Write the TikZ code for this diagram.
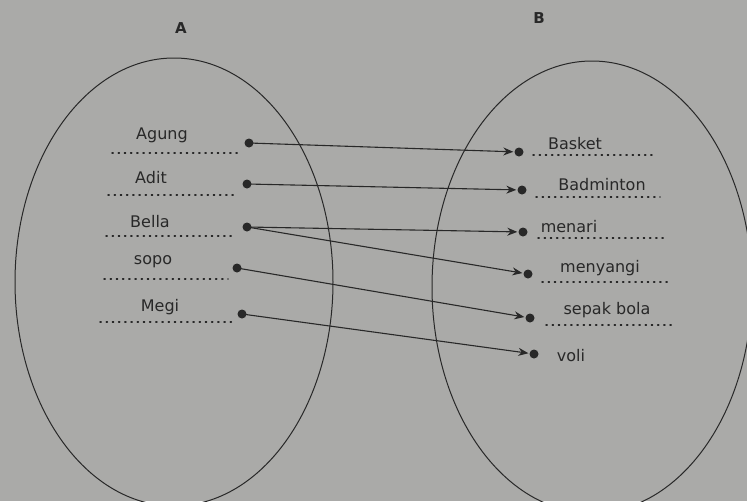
\documentclass[tikz,border=0pt]{standalone}
\usepackage{fontspec}
\setmainfont{DejaVu Sans}
\usetikzlibrary{arrows.meta}
\definecolor{paper}{RGB}{170,170,168}
\definecolor{ink}{RGB}{40,40,40}
\begin{document}
\begin{tikzpicture}[x=1pt,y=-1pt,
  item/.style={font=\fontsize{16}{18}\selectfont, text=ink, inner sep=0pt},
  setlabel/.style={font=\fontsize{15}{17}\selectfont\bfseries, text=ink},
  pt/.style={circle, fill=ink, inner sep=0pt, minimum size=9pt},
  dotline/.style={ink, line width=1.4pt, dash pattern=on 1.2pt off 5pt, line cap=round},
  map/.style={ink, line width=1.1pt, -{Stealth[length=10pt,width=8pt]}, shorten >=1pt}]
\useasboundingbox (0,0) rectangle (747,501);
\fill[paper] (0,0) rectangle (747,501);
\begin{scope}
\clip (0,0) rectangle (747,501);
\draw[ink, line width=1pt] (174,282) ellipse [x radius=159, y radius=224];
\draw[ink, line width=1pt] (592,287) ellipse [x radius=160, y radius=226];
\end{scope}
\node[setlabel] (A) at (181,28) {A};
\node[setlabel] (B) at (539,18) {B};
% left items
\node[item] (agung) at (162,135) {Agung};
\node[item] (adit) at (151,178) {Adit};
\node[item] (bella) at (150,222) {Bella};
\node[item] (sopo) at (153,262) {sopo};
\node[item] (megi) at (160,307) {Megi};
\draw[dotline] (112,153) -- (238,153);
\draw[dotline] (108,195) -- (238,195);
\draw[dotline] (106,236) -- (236,236);
\draw[dotline] (104,279) -- (228,279);
\draw[dotline] (100,322) -- (232,322);
\node[pt] (a1) at (249,143) {};
\node[pt] (a2) at (247,184) {};
\node[pt] (a3) at (247,227) {};
\node[pt] (a4) at (237,268) {};
\node[pt] (a5) at (242,314) {};
% right items
\node[item] (basket) at (575,144) {Basket};
\node[item] (badminton) at (602,185) {Badminton};
\node[item] (menari) at (569,227) {menari};
\node[item] (menyangi) at (600,268) {menyangi};
\node[item] (sepak) at (607,310) {sepak bola};
\node[item] (voli) at (571,356) {voli};
\draw[dotline] (533,155) -- (655,155);
\draw[dotline] (536,197) -- (660,197);
\draw[dotline] (538,238) -- (664,238);
\draw[dotline] (542,282) -- (670,282);
\draw[dotline] (546,325) -- (674,325);
\node[pt] (b1) at (519,152) {};
\node[pt] (b2) at (522,190) {};
\node[pt] (b3) at (523,232) {};
\node[pt] (b4) at (528,274) {};
\node[pt] (b5) at (530,318) {};
\node[pt] (b6) at (534,354) {};
% mappings
\draw[map] (a1.center) -- (b1);
\draw[map] (a2.center) -- (b2);
\draw[map] (a3.center) -- (b3);
\draw[map] (a3.center) -- (b4);
\draw[map] (a4.center) -- (b5);
\draw[map] (a5.center) -- (b6);
\end{tikzpicture}
\end{document}
